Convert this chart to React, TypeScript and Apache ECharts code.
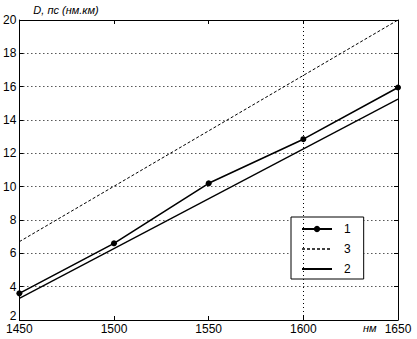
import React, { useEffect, useRef } from "react";
import * as echarts from "echarts";

const wavelengths = [1450, 1500, 1550, 1600, 1650];
const series1 = [3.6, 6.6, 10.2, 12.85, 15.95];
const lineEnds = [1450, 1650];
const series3 = [6.7, 20.0];
const series2 = [3.3, 15.25];
const legendOrder = ["1", "3", "2"];
const yTitle = "D, пс (нм.км)";
const xUnit = "нм";

const FONT = "'Liberation Sans', Arial, sans-serif";
const HIDDEN = { color: "rgba(0,0,0,0)", borderColor: "rgba(0,0,0,0)", borderWidth: 0 };

export default function App() {
  const ref = useRef<HTMLDivElement>(null);
  useEffect(() => {
    if (!ref.current) return;
    const chart = echarts.init(ref.current, null, { renderer: "svg" });
    const axisLine = { show: true, lineStyle: { color: "#000", width: 1 } };
    const tick = { show: true, inside: true, length: 4, lineStyle: { color: "#000" } };
    chart.setOption({
      animation: false,
      backgroundColor: "#fff",
      textStyle: { fontFamily: FONT, color: "#000" },
      grid: { left: 19, right: 19, top: 20, bottom: 19 },
      legend: {
        data: [
          { name: legendOrder[0] },
          { name: legendOrder[1], itemStyle: HIDDEN, lineStyle: { type: [3, 2], width: 1.3 } },
          { name: legendOrder[2], itemStyle: HIDDEN },
        ],
        orient: "vertical",
        left: 291,
        top: 217,
        backgroundColor: "#fff",
        borderColor: "#000",
        borderWidth: 1,
        borderRadius: 0,
        padding: [6, 13, 4, 10],
        itemWidth: 30,
        itemHeight: 8,
        itemGap: 8,
        textStyle: { fontFamily: FONT, fontSize: 12, color: "#000", padding: [0, 0, 0, 7] },
      },
      xAxis: [
        {
          type: "value",
          min: 1450,
          max: 1650,
          interval: 50,
          axisLine,
          axisTick: tick,
          axisLabel: {
            color: "#000",
            fontSize: 12,
            fontFamily: FONT,
            margin: 3,
            formatter: (v: number) => String(v),
          },
          splitLine: { show: false },
        },
        {
          type: "value",
          position: "top",
          min: 1450,
          max: 1650,
          interval: 50,
          axisLine,
          axisTick: tick,
          axisLabel: { show: false },
          splitLine: { show: false },
        },
      ],
      yAxis: [
        {
          type: "value",
          min: 2,
          max: 20,
          interval: 2,
          name: yTitle,
          nameLocation: "end",
          nameGap: 5,
          nameTextStyle: {
            align: "left",
            fontStyle: "italic",
            fontSize: 11,
            fontFamily: FONT,
            color: "#000",
            padding: [0, 0, 0, 14],
          },
          axisLine,
          axisTick: tick,
          axisLabel: {
            color: "#000",
            fontSize: 12,
            fontFamily: FONT,
            margin: 3,
            formatter: (v: number) => (v === 2 ? "{lo|2}" : String(v)),
            rich: { lo: { fontSize: 12, fontFamily: FONT, color: "#000", lineHeight: 12, padding: [0, 0, 8, 0] } },
          },
          splitLine: { show: true, lineStyle: { color: "#000", type: [1, 3], width: 1 } },
        },
        {
          type: "value",
          position: "right",
          min: 2,
          max: 20,
          interval: 2,
          axisLine,
          axisTick: tick,
          axisLabel: { show: false },
          splitLine: { show: false },
        },
      ],
      graphic: [
        {
          type: "text",
          left: 363,
          top: 322,
          style: { text: xUnit, font: `italic 11px ${FONT}`, fill: "#000" },
        },
      ],
      series: [
        {
          name: "1",
          type: "line",
          data: wavelengths.map((x, i) => [x, series1[i]]),
          symbol: "circle",
          symbolSize: 6,
          itemStyle: { color: "#000" },
          lineStyle: { color: "#000", width: 1.6 },
          z: 5,
          markLine: {
            silent: true,
            symbol: "none",
            label: { show: false },
            lineStyle: { color: "#000", type: [1, 3], width: 1 },
            data: [{ xAxis: 1600 }],
          },
        },
        {
          name: "3",
          type: "line",
          data: lineEnds.map((x, i) => [x, series3[i]]),
          symbol: "none",
          itemStyle: { color: "#000" },
          lineStyle: { color: "#000", width: 1, type: [3, 2] },
        },
        {
          name: "2",
          type: "line",
          data: lineEnds.map((x, i) => [x, series2[i]]),
          symbol: "none",
          itemStyle: { color: "#000" },
          lineStyle: { color: "#000", width: 1.3 },
        },
      ],
    });
    return () => chart.dispose();
  }, []);
  return <div ref={ref} style={{ width: 417, height: 339, position: "absolute", left: 0, top: 0 }} />;
}
